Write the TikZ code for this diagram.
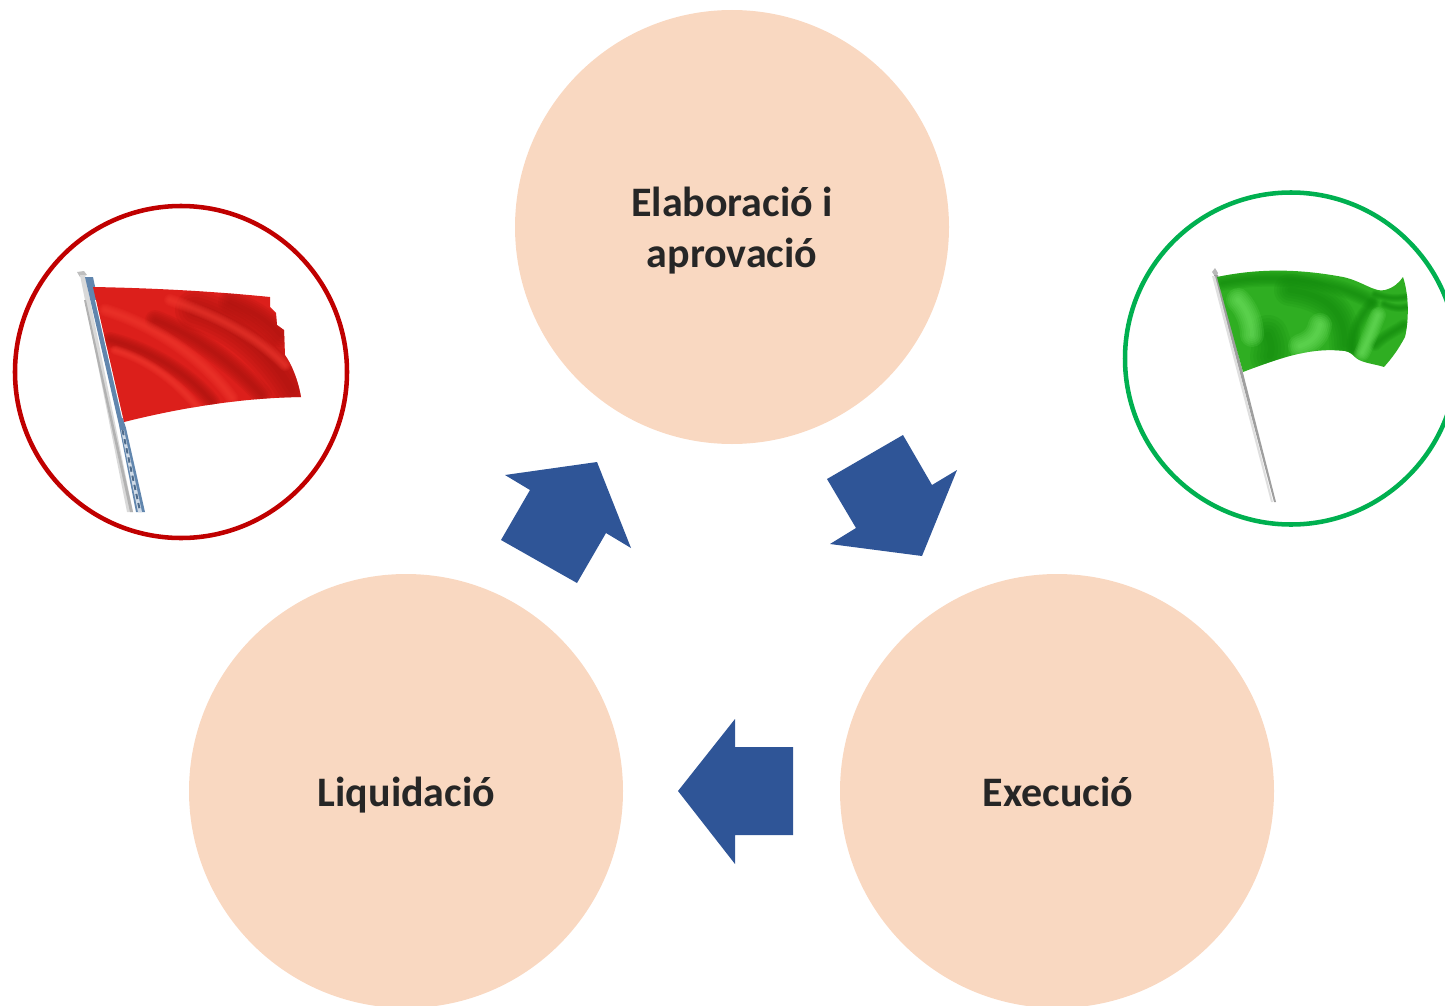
\documentclass[tikz,border=0pt]{standalone}
\usepackage{fontspec}
\setmainfont{Carlito}
\definecolor{peach}{HTML}{F9D8C1}
\definecolor{arrowblue}{HTML}{2F5597}
\definecolor{ringred}{HTML}{C00000}
\definecolor{ringgreen}{HTML}{00B050}
\definecolor{redbase}{HTML}{DC1F1B}
\definecolor{reddark}{HTML}{A8120E}
\definecolor{redlight}{HTML}{F23A30}
\definecolor{greenbase}{HTML}{2FAE22}
\definecolor{greendark}{HTML}{128A0C}
\definecolor{greenlight}{HTML}{74E566}
\definecolor{polesteel}{HTML}{6186AE}
\tikzset{
  stage/.style={circle,fill=peach,minimum size=325.5pt,inner sep=0pt},
  stagetext/.style={anchor=base,inner sep=0pt,font=\fontsize{31.5pt}{38pt}\selectfont\bfseries,text=black!85},
  ring/.style={circle,draw,line width=3.4pt,minimum size=249pt,inner sep=0pt},
  flow/.style={fill=arrowblue},
}
% soft stroke: the same curve in widening translucent passes
\newcommand{\softstroke}[3]{%
  \foreach \wd in {1,...,6}{\draw[#1,line cap=round,opacity=.16,line width=\wd*#2] #3;}}
\begin{document}
\begin{tikzpicture}[x=0.75pt,y=-0.75pt]
\useasboundingbox (0,0) rectangle (1445,1006);
\clip (0,0) rectangle (1445,1006);
% stages
\node[stage] (elab) at (732,227) {};
\node[stage] (liq) at (406,791) {};
\node[stage] (exec) at (1057,791) {};
\node[stagetext] (elabA) at (732,216) {Elaboració i};
\node[stagetext] (elabB) at (732,267) {aprovació};
\node[stagetext] (liqT) at (406.5,806) {Liquidació};
\node[stagetext] (execT) at (1058,806) {Execució};
% flow arrows
\fill[flow] (903,435)--(932,485)--(957,470)--(922,556)--(830,544)--(856,528)--(827,479)--cycle;
\fill[flow] (505,475)--(597,462)--(631,548)--(606,533)--(577,583)--(501,540)--(530,490)--cycle;
\fill[flow] (793,747)--(735,747)--(735,719)--(678,791)--(735,864)--(735,835)--(793,835)--cycle;
% rings
\node[ring,draw=ringred] (redring) at (181,372) {};
\node[ring,draw=ringgreen] (greenring) at (1291,358.5) {};
% red flag pole
\fill[gray!50] (77,272)--(84,271)--(87,275)--(80,277)--cycle;
\fill[gray!30] (80,275)--(85,275)--(133,512)--(127,512)--cycle;
\fill[gray!60] (84,300)--(86,300)--(133,512)--(130,512)--cycle;
\fill[polesteel] (85,277)--(93,277)--(124,422)--(126,428)--(145,512)--(136,512)--(119,425)--cycle;
\fill[white!70!polesteel] (121,430)--(124,430)--(142,512)--(138,512)--cycle;
\draw[polesteel!80!black,line width=1.5pt,dash pattern=on 4pt off 3pt] (122.5,430)--(140,511);
\fill[white] (95,300)--(97,300)--(125,418)--(122,418)--cycle;
% red flag cloth
\begin{scope}
\clip (93,287)..controls (150,288) and (210,291)..(270,297)--(270,307)--(276,313)--(277,325)--(284,330)--(285,355)
  ..controls (292,365) and (298,380)..(301,397)..controls (240,398) and (180,408)..(124,422)--cycle;
\fill[redbase] (60,260) rectangle (320,440);
\softstroke{reddark}{5pt}{(195,310)..controls (230,320) and (265,345)..(292,390)}
\softstroke{reddark}{3pt}{(230,302)..controls (250,310) and (268,320)..(280,335)}
\softstroke{reddark}{2.5pt}{(155,320)..controls (195,335) and (235,365)..(262,395)}
\softstroke{reddark}{2pt}{(110,340)..controls (150,350) and (190,375)..(212,402)}
\softstroke{redlight}{1.5pt}{(170,300)..controls (215,315) and (255,335)..(285,365)}
\softstroke{redlight}{1.6pt}{(105,310)..controls (155,325) and (205,360)..(232,398)}
\softstroke{redlight}{1.2pt}{(115,350)..controls (150,360) and (180,385)..(198,408)}
\end{scope}
% green flag pole
\fill[gray!55] (1212,272)--(1215,268)--(1218,273)--(1216,278)--cycle;
\fill[gray!75] (1214,275)--(1218,275)--(1276,502)--(1274,502)--cycle;
\fill[gray!25] (1212,276)--(1215,276)--(1273,502)--(1271,502)--cycle;
% green flag cloth
\begin{scope}
\clip (1217,277)..controls (1260,268) and (1300,269)..(1343,277)..controls (1362,281) and (1375,293)..(1385,290)
  ..controls (1393,288) and (1399,283)..(1403,277)..controls (1409,295) and (1409,320)..(1405,337)
  ..controls (1398,350) and (1392,358)..(1384,367)..controls (1375,364) and (1362,363)..(1356,358)
  ..controls (1352,354) and (1350,352)..(1345,351)..controls (1310,347) and (1280,358)..(1243,372)--cycle;
\fill[greenbase] (1200,260) rectangle (1420,380);
\softstroke{greendark}{2pt}{(1222,283)..controls (1270,274) and (1330,278)..(1372,302)}
\softstroke{greendark}{4pt}{(1290,290)..controls (1325,295) and (1345,310)..(1345,345)}
\softstroke{greendark}{5pt}{(1268,335)..controls (1272,345) and (1272,350)..(1270,356)}
\softstroke{greendark}{1.5pt}{(1352,350)..controls (1352,335) and (1358,318)..(1372,303)}
\softstroke{greendark}{1pt}{(1375,294)..controls (1385,298) and (1395,299)..(1406,297)}
\softstroke{greendark}{1pt}{(1384,304)..controls (1392,308) and (1400,309)..(1407,307)}
\softstroke{greendark}{1.5pt}{(1375,345)..controls (1385,335) and (1397,330)..(1404,325)}
\softstroke{greenlight}{3pt}{(1238,300)..controls (1248,310) and (1252,325)..(1252,335)}
\softstroke{greenlight}{3pt}{(1320,325)..controls (1318,335) and (1312,342)..(1300,346)}
\softstroke{greenlight}{2pt}{(1378,315)..controls (1372,330) and (1366,345)..(1362,353)}
\end{scope}
\end{tikzpicture}
\end{document}
